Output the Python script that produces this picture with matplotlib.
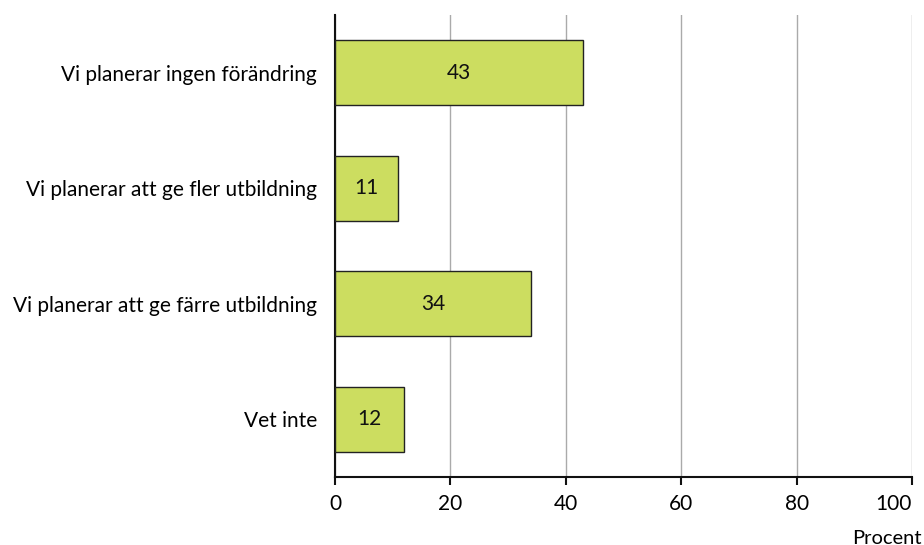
import matplotlib
matplotlib.use("Agg")
import matplotlib.pyplot as plt

categories = ["Vi planerar ingen förändring", "Vi planerar att ge fler utbildning",
              "Vi planerar att ge färre utbildning", "Vet inte"]
values = [43, 11, 34, 12]
xticks = [0, 20, 40, 60, 80, 100]

plt.rcParams['font.family'] = ['Lato', 'DejaVu Sans']

fig = plt.figure(figsize=(9.24, 5.45), dpi=100)
ax = fig.add_axes([335/924, (545-477)/545, (912-335)/924, (477-15)/545])

y = list(range(len(categories)))
ax.barh(y, values, height=0.565, color="#CCDD60", edgecolor="#222222", linewidth=1.0, zorder=3)
for yi, v in zip(y, values):
    ax.text(v/2, yi, str(v), ha="center", va="center", fontsize=15, color="#111111", zorder=4)

ax.set_xlim(0, 100)
ax.set_ylim(3.5, -0.5)
ax.set_xticks(xticks)
ax.set_xticklabels([str(t) for t in xticks], fontsize=15)
ax.get_xticklabels()[-1].set_horizontalalignment("right")
ax.set_yticks(y)
ax.set_yticklabels(categories, fontsize=15)
ax.tick_params(axis='y', length=0, pad=13)
ax.tick_params(axis='x', length=6, width=1.5, direction='out', pad=6, color="#111111")
ax.xaxis.grid(True, color="#AAAAAA", linewidth=1.0, zorder=0)
for s in ["top", "right"]:
    ax.spines[s].set_visible(False)
ax.spines["left"].set_linewidth(1.5)
ax.spines["bottom"].set_linewidth(1.5)
ax.spines["left"].set_color("#111111")
ax.spines["bottom"].set_color("#111111")

fig.text(922/924, 1 - 538/545, "Procent", ha="right", va="center", fontsize=14.5)

fig.savefig("out.png", dpi=100)
